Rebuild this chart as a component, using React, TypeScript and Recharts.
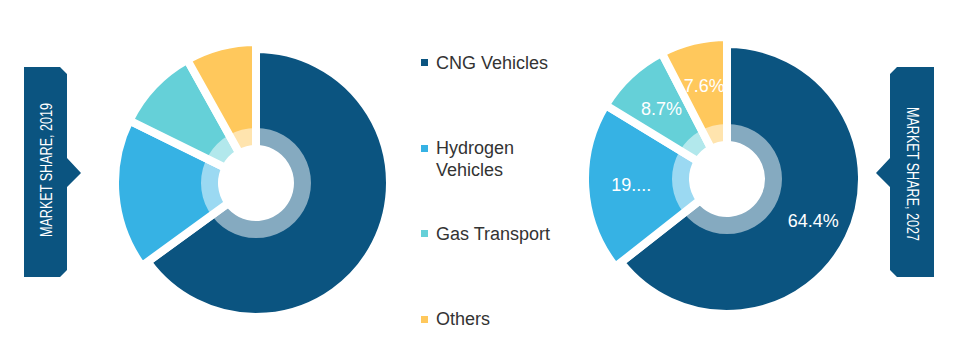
import { PieChart, Pie, Cell } from 'recharts'

const categories = ['CNG Vehicles', 'Hydrogen Vehicles', 'Gas Transport', 'Others']
const colors = ['#0b5480', '#36b2e4', '#65d0d8', '#ffc85c']
const share2019 = [65.0, 17.3, 9.6, 8.1]
const share2027 = [64.4, 19.3, 8.7, 7.6]
const labels2027 = ['64.4%', '19....', '8.7%', '7.6%']
const bannerTitles = ['MARKET SHARE, 2019', 'MARKET SHARE, 2027']

const RADIAN = Math.PI / 180
const BANNER = '#0b5480'

const toRows = (values: number[]) => categories.map((name, i) => ({ name, value: values[i] }))

const rows2019 = toRows(share2019)
const rows2027 = toRows(share2027)

function InsideLabel(props: { cx: number; cy: number; midAngle: number; index: number }) {
  const { cx, cy, midAngle, index } = props
  const r = 96
  const x = cx + r * Math.cos(-midAngle * RADIAN)
  const y = cy + r * Math.sin(-midAngle * RADIAN)
  return (
    <text x={x} y={y} fill="#fff" fontSize={18} textAnchor="middle" dominantBaseline="central"
      fontFamily="'Liberation Sans', Arial, sans-serif">
      {labels2027[index]}
    </text>
  )
}

// one donut = big slice pie + small slices pie (a bit larger) + pale ring on top
function donut(key: string, rows: { name: string; value: number }[], cx: number, cy: number, big: number, small: number, withLabels: boolean) {
  return [
    <Pie key={key + 'a'} data={rows} dataKey="value" cx={cx} cy={cy} innerRadius={34} outerRadius={big}
      startAngle={90} endAngle={-270} isAnimationActive={false} labelLine={false}
      label={withLabels ? (p: any) => <InsideLabel {...p} /> : false}>
      {rows.map((r, i) => (
        <Cell key={r.name} fill={i === 0 ? colors[0] : 'none'} stroke={i === 0 ? '#fff' : 'none'} strokeWidth={8} />
      ))}
    </Pie>,
    <Pie key={key + 'b'} data={rows} dataKey="value" cx={cx} cy={cy} innerRadius={34} outerRadius={small}
      startAngle={90} endAngle={-270} isAnimationActive={false}>
      {rows.map((r, i) => (
        <Cell key={r.name} fill={i === 0 ? 'none' : colors[i]} stroke={i === 0 ? 'none' : '#fff'} strokeWidth={8} />
      ))}
    </Pie>,
    <Pie key={key + 'c'} data={[{ name: 'ring', value: 1 }]} dataKey="value" cx={cx} cy={cy} innerRadius={36} outerRadius={55}
      startAngle={90} endAngle={-270} isAnimationActive={false} fill="#fff" fillOpacity={0.5} stroke="none" />,
  ]
}

function Banner({ side, title }: { side: 'left' | 'right'; title: string }) {
  const left = side === 'left'
  const points = left
    ? '24,67 60,67 67,74 67,158 81,173 67,187 67,270 60,277 24,277'
    : '934,67 897,67 890,74 890,158 876,173 890,187 890,270 897,277 934,277'
  const tx = left ? 46 : 912
  const ty = left ? 170 : 174
  return (
    <g>
      <polygon points={points} fill={BANNER} />
      <text x={tx} y={ty} fill="#fff" fontSize={16} textAnchor="middle" dominantBaseline="central"
        textLength={134} lengthAdjust="spacingAndGlyphs"
        transform={`rotate(${left ? -90 : 90} ${tx} ${ty})`}
        fontFamily="'Liberation Sans', Arial, sans-serif">
        {title}
      </text>
    </g>
  )
}

export default function App() {
  return (
    <div style={{ position: 'absolute', left: 0, top: 0, width: 964, height: 357, background: '#fff' }}>
      <svg width={964} height={357} style={{ position: 'absolute', left: 0, top: 0 }}>
        <Banner side="left" title={bannerTitles[0]} />
        <Banner side="right" title={bannerTitles[1]} />
      </svg>
      <div style={{ position: 'absolute', left: 0, top: 0 }}>
        <PieChart width={964} height={357} margin={{ top: 0, right: 0, bottom: 0, left: 0 }}>
          {donut('y19', rows2019, 256, 183, 134, 141, false)}
          {donut('y27', rows2027, 727, 179, 135, 142, true)}
        </PieChart>
      </div>
      {categories.map((name, i) => (
        <div key={name} style={{
          position: 'absolute', left: 421, top: 51.5 + i * 85.5, display: 'flex', alignItems: 'flex-start',
          fontFamily: "'Liberation Sans', Arial, sans-serif", fontSize: 18, lineHeight: '22px', color: '#333',
        }}>
          <span style={{ width: 7, height: 7, background: colors[i], marginTop: 7.5, marginRight: 8, flex: 'none' }} />
          <span style={{ width: 125 }}>{name}</span>
        </div>
      ))}
    </div>
  )
}
